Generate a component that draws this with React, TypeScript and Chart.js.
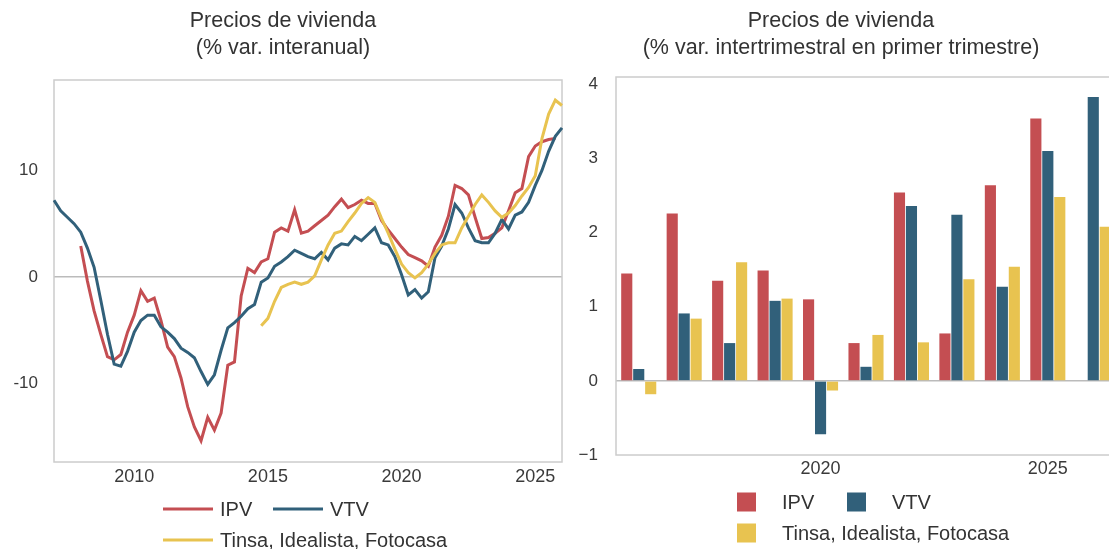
import React, { useEffect, useRef } from 'react';
import { Chart, registerables } from 'chart.js';

Chart.register(...registerables);

const FONT = '"Liberation Sans", Arial, Helvetica, sans-serif';
const TEXT = '#333333';
const TICK = '#3a3a3a';
const FRAME = '#cccccc';
const ZERO = '#bbbbbb';
const RED = '#c44e52';
const BLUE = '#31607a';
const YELLOW = '#e8c350';

// ---------- Left chart: year-on-year % change, quarterly ----------
const years = [2007, 2008, 2009, 2010, 2011, 2012, 2013, 2014, 2015, 2016, 2017, 2018, 2019, 2020, 2021, 2022, 2023, 2024, 2025, 2026];
const quarterNames = ['T1', 'T2', 'T3', 'T4'];
const quarterLabels = years.flatMap((y) => quarterNames.map((q) => `${y} ${q}`)).slice(0, 77); // 2007 T1 .. 2026 T1
const leftXTickYears = ['2010', '2015', '2020', '2025'];
const leftYTicks = [-10, 0, 10];

// IPV: 2008 T1 .. 2025 T4
const ipvYoY = [
  2.9, -0.4, -3.2, -5.4,
  -7.5, -7.8, -7.3, -5.2,
  -3.6, -1.3, -2.3, -2.0,
  -4.1, -6.6, -7.5, -9.5,
  -12.2, -14.1, -15.4, -13.2,
  -14.4, -12.8, -8.3, -8.0,
  -1.8, 0.8, 0.4, 1.4,
  1.7, 4.2, 4.6, 4.3,
  6.3, 4.1, 4.3, 4.8,
  5.3, 5.8, 6.6, 7.3,
  6.5, 6.8, 7.2, 6.9,
  6.9, 5.3, 4.4, 3.6,
  2.8, 2.1, 1.8, 1.5,
  1.0, 2.8, 3.9, 5.7,
  8.6, 8.3, 7.7, 5.6,
  3.6, 3.7, 4.1, 4.6,
  6.2, 7.9, 8.3, 11.3,
  12.3, 12.7, 12.9, 13.0,
];

// VTV: 2007 T1 .. 2026 T1
const vtvYoY = [
  7.2, 6.2, 5.6, 5.0,
  4.2, 2.7, 0.9, -2.2,
  -5.4, -8.2, -8.4, -7.0,
  -5.2, -4.1, -3.6, -3.6,
  -4.7, -5.2, -5.8, -6.7,
  -7.1, -7.6, -8.9, -10.1,
  -9.2, -6.9, -4.8, -4.3,
  -3.7, -3.0, -2.6, -0.5,
  -0.1, 1.0, 1.4, 1.9,
  2.5, 2.2, 1.9, 1.7,
  2.3, 1.6, 2.7, 3.1,
  3.0, 3.8, 3.4, 4.0,
  4.6, 3.2, 3.0, 1.9,
  0.2, -1.7, -1.2, -2.0,
  -1.4, 1.8, 2.9, 4.5,
  6.8, 6.0, 4.6, 3.4,
  3.2, 3.2, 4.1, 5.4,
  4.5, 5.8, 6.1, 7.0,
  8.6, 10.0, 11.8, 13.2,
  14.0,
];

// Tinsa, Idealista, Fotocasa: 2014 T4 .. 2026 T1
const tinsaYoY = [
  -4.6,
  -3.9, -2.3, -1.0, -0.7,
  -0.5, -0.7, -0.5, 0.1,
  1.6, 3.0, 4.1, 4.3,
  5.2, 6.0, 6.9, 7.45,
  7.0, 5.5, 4.1, 2.6,
  1.2, 0.4, -0.1, 0.4,
  1.2, 2.2, 3.0, 3.2,
  3.2, 4.6, 5.7, 6.8,
  7.7, 7.0, 6.2, 5.6,
  6.0, 6.7, 7.6, 8.4,
  9.5, 13.0, 15.3, 16.6,
  16.1,
];

// ---------- Right chart: Q1 quarter-on-quarter % change ----------
const barYears = ['2016', '2017', '2018', '2019', '2020', '2021', '2022', '2023', '2024', '2025', '2026'];
const rightXTickYears = ['2020', '2025'];
const ipvQoQ = [1.45, 2.26, 1.35, 1.49, 1.1, 0.51, 2.54, 0.64, 2.64, 3.54, null];
const vtvQoQ = [0.16, 0.91, 0.51, 1.08, -0.72, 0.19, 2.36, 2.24, 1.27, 3.1, 3.83];
const tinsaQoQ = [-0.18, 0.84, 1.6, 1.11, -0.13, 0.62, 0.52, 1.37, 1.54, 2.48, 2.08];

const seriesNames = ['IPV', 'VTV', 'Tinsa, Idealista, Fotocasa'];
const seriesColors = [RED, BLUE, YELLOW];

const leftTitle = ['Precios de vivienda', '(% var. interanual)'];
const rightTitle = ['Precios de vivienda', '(% var. intertrimestral en primer trimestre)'];

const padNulls = (n: number) => Array(n).fill(null);

const decorPlugin = {
  id: 'decor',
  beforeDatasetsDraw(chart: any) {
    const { ctx, chartArea: a } = chart;
    ctx.save();
    ctx.strokeStyle = FRAME;
    ctx.lineWidth = 1.5;
    ctx.strokeRect(a.left, a.top, a.right - a.left, a.bottom - a.top);
    ctx.restore();
  },
  afterDraw(chart: any, _args: any, opts: any) {
    const ctx = chart.ctx;
    ctx.save();
    ctx.fillStyle = TEXT;
    ctx.font = `${opts.titleSize}px ${FONT}`;
    ctx.textAlign = 'center';
    ctx.textBaseline = 'middle';
    opts.title.forEach((line: string, i: number) => ctx.fillText(line, opts.titleX, opts.titleY[i]));
    ctx.font = `${opts.legendSize}px ${FONT}`;
    ctx.textAlign = 'left';
    chart.data.datasets.forEach((ds: any, i: number) => {
      const [c, r] = opts.slots[i];
      const x = opts.cols[c];
      const y = opts.rows[r];
      ctx.fillStyle = seriesColors[i];
      if (opts.type === 'line') {
        ctx.fillRect(x, y - 1.5, opts.handle, 3);
      } else {
        ctx.fillRect(x, y - opts.handle / 2, opts.handle, opts.handle);
      }
      ctx.fillStyle = TEXT;
      ctx.fillText(ds.label, x + opts.textOffset, y + 1);
    });
    ctx.restore();
  },
};

function LeftChart() {
  const ref = useRef<HTMLCanvasElement>(null);
  useEffect(() => {
    const chart = new Chart(ref.current as HTMLCanvasElement, {
      type: 'line',
      data: {
        labels: quarterLabels,
        datasets: [
          { label: seriesNames[0], data: [...padNulls(4), ...ipvYoY, null], borderColor: RED, backgroundColor: RED, order: 2 },
          { label: seriesNames[1], data: vtvYoY, borderColor: BLUE, backgroundColor: BLUE, order: 1 },
          { label: seriesNames[2], data: [...padNulls(31), ...tinsaYoY], borderColor: YELLOW, backgroundColor: YELLOW, order: 0 },
        ] as any,
      },
      options: {
        animation: false,
        responsive: false,
        devicePixelRatio: 1,
        layout: { padding: { top: 80, left: 4, right: 4, bottom: 57 } },
        elements: { line: { borderWidth: 3, tension: 0 }, point: { radius: 0, hoverRadius: 0 } },
        spanGaps: false,
        events: [],
        plugins: {
          legend: { display: false },
          title: { display: false },
          tooltip: { enabled: false },
          decor: {
            title: leftTitle, titleX: 283, titleY: [21, 48], titleSize: 21.5,
            legendSize: 20, type: 'line', handle: 50, textOffset: 57,
            cols: [163, 273], rows: [509, 540], slots: [[0, 0], [1, 0], [0, 1]],
          },
        } as any,
        scales: {
          x: {
            type: 'category',
            offset: false,
            grid: { display: false, drawTicks: false },
            border: { display: false },
            afterFit: (s: any) => { s.height = 30; },
            ticks: {
              autoSkip: false, maxRotation: 0, padding: 4, color: TICK,
              font: { family: FONT, size: 18 },
              callback: (_v: any, i: number) => {
                const [y, q] = quarterLabels[i].split(' ');
                return q === 'T1' && leftXTickYears.includes(y) ? y : '';
              },
            },
          },
          y: {
            min: -17.4, max: 18.5,
            afterFit: (s: any) => { s.width = 50; },
            afterBuildTicks: (s: any) => { s.ticks = leftYTicks.map((v) => ({ value: v })); },
            grid: { drawTicks: false, color: (c: any) => (c.tick && c.tick.value === 0 ? ZERO : 'rgba(0,0,0,0)'), lineWidth: 1.5 },
            border: { display: false },
            ticks: { padding: 16, color: TICK, font: { family: FONT, size: 17 }, callback: (v: any) => String(v) },
          },
        },
      } as any,
      plugins: [decorPlugin as any],
    });
    return () => chart.destroy();
  }, []);
  return <canvas ref={ref} width={566} height={549} style={{ display: 'block' }} />;
}

function RightChart() {
  const ref = useRef<HTMLCanvasElement>(null);
  useEffect(() => {
    const chart = new Chart(ref.current as HTMLCanvasElement, {
      type: 'bar',
      data: {
        labels: barYears,
        datasets: [
          { label: seriesNames[0], data: ipvQoQ, backgroundColor: RED },
          { label: seriesNames[1], data: vtvQoQ, backgroundColor: BLUE },
          { label: seriesNames[2], data: tinsaQoQ, backgroundColor: YELLOW },
        ] as any,
      },
      options: {
        animation: false,
        responsive: false,
        devicePixelRatio: 1,
        layout: { padding: { top: 77, left: 0, right: 0, bottom: 64 } },
        events: [],
        datasets: { bar: { categoryPercentage: 0.79, barPercentage: 0.93, borderWidth: 0 } },
        plugins: {
          legend: { display: false },
          title: { display: false },
          tooltip: { enabled: false },
          decor: {
            title: rightTitle, titleX: 273, titleY: [21, 48], titleSize: 21.5,
            legendSize: 20, type: 'box', handle: 19, textOffset: 45,
            cols: [169, 279], rows: [502, 533], slots: [[0, 0], [1, 0], [0, 1]],
          },
        } as any,
        scales: {
          x: {
            type: 'category',
            offset: true,
            grid: { display: false, drawTicks: false },
            border: { display: false },
            afterFit: (s: any) => { s.height = 30; },
            ticks: {
              autoSkip: false, maxRotation: 0, padding: 3, color: TICK,
              font: { family: FONT, size: 18 },
              callback: (_v: any, i: number) => (rightXTickYears.includes(barYears[i]) ? barYears[i] : ''),
            },
          },
          y: {
            min: -1, max: 4.1,
            afterFit: (s: any) => { s.width = 48; },
            afterBuildTicks: (s: any) => { s.ticks = [-1, 0, 1, 2, 3, 4].map((v) => ({ value: v })); },
            grid: { drawTicks: false, color: (c: any) => (c.tick && c.tick.value === 0 ? ZERO : 'rgba(0,0,0,0)'), lineWidth: 1.5 },
            border: { display: false },
            ticks: { padding: 18, color: TICK, font: { family: FONT, size: 17 }, callback: (v: any) => (v < 0 ? '\u2212' + Math.abs(v) : String(v)) },
          },
        },
      } as any,
      plugins: [decorPlugin as any],
    });
    return () => chart.destroy();
  }, []);
  return <canvas ref={ref} width={548} height={549} style={{ display: 'block' }} />;
}

export default function App() {
  return (
    <div style={{ position: 'fixed', left: 0, top: 0, width: 1109, height: 549, overflow: 'hidden', background: '#ffffff' }}>
      <div style={{ position: 'absolute', left: 0, top: 0 }}>
        <LeftChart />
      </div>
      <div style={{ position: 'absolute', left: 568, top: 0 }}>
        <RightChart />
      </div>
    </div>
  );
}
